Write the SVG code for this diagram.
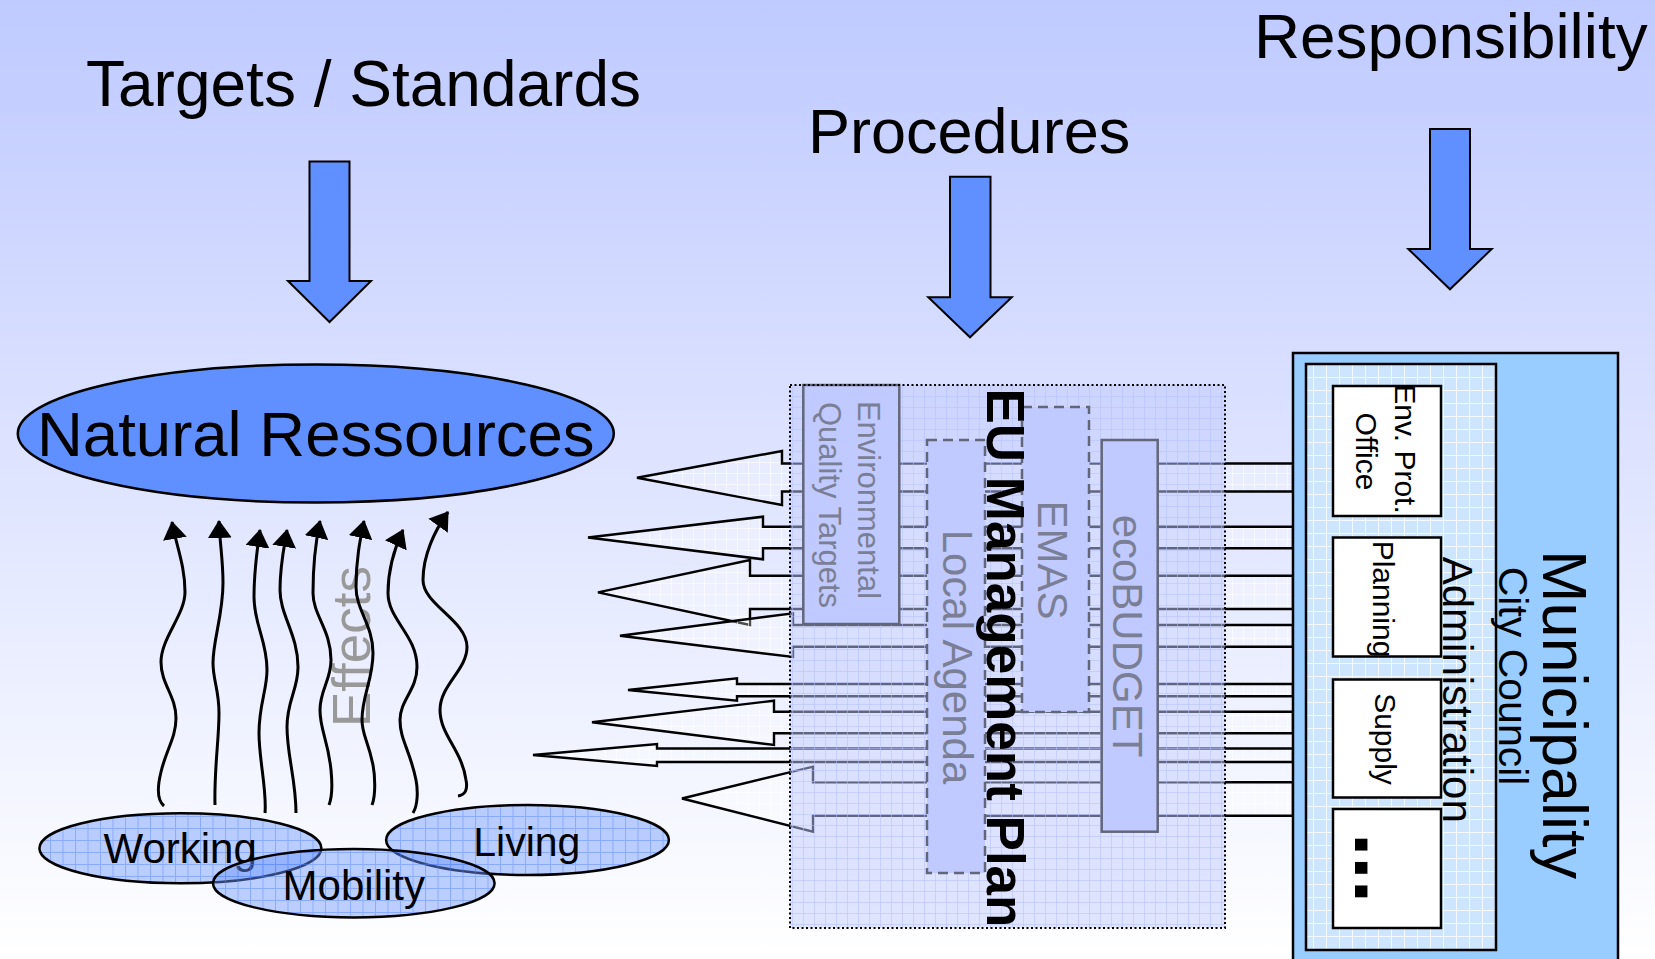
<svg xmlns="http://www.w3.org/2000/svg" width="1655" height="959" viewBox="0 0 1655 959">
  <defs>
    <linearGradient id="bg" x1="0" y1="0" x2="0" y2="1">
      <stop offset="0" stop-color="#bfcaff"/>
      <stop offset="1" stop-color="#ffffff"/>
    </linearGradient>
    <!-- translucent blue grid used by the activity ellipses -->
    <pattern id="ellGrid" width="12.5" height="12" patternUnits="userSpaceOnUse">
      <rect width="12.5" height="12" fill="#6d97ff" fill-opacity="0.45"/>
      <path d="M0,0.5H12.5M0.5,0V12" stroke="#4f80ff" stroke-opacity="0.45" stroke-width="1"/>
    </pattern>
    <!-- translucent wash over the management plan area -->
    <pattern id="euGrid" width="11" height="11" patternUnits="userSpaceOnUse">
      <rect width="11" height="11" fill="#c2ccff" fill-opacity="0.5"/>
      <path d="M0,0.5H11M0.5,0V11" stroke="#b4c1ff" stroke-opacity="0.55" stroke-width="1"/>
    </pattern>
    <pattern id="adminGrid" width="13" height="13" patternUnits="userSpaceOnUse">
      <rect width="13" height="13" fill="#cde5ff"/>
      <path d="M0,0.5H13M0.5,0V13" stroke="#ffffff" stroke-opacity="0.8" stroke-width="1"/>
    </pattern>
    <pattern id="flowFill" width="11" height="11" patternUnits="userSpaceOnUse">
      <rect width="11" height="11" fill="#ffffff" fill-opacity="0.3"/>
      <path d="M0,0.5H11M0.5,0V11" stroke="#ffffff" stroke-opacity="0.6" stroke-width="1"/>
    </pattern>
    <marker id="head" viewBox="0 0 18 24" refX="17" refY="12" markerWidth="18" markerHeight="24" markerUnits="userSpaceOnUse" orient="auto">
      <path d="M0,0 L18,12 L0,24 z" fill="#000"/>
    </marker>
  </defs>
  <style>
    text { font-family: "Liberation Sans", Arial, sans-serif; fill: #000; }
    .title { font-size: 64px; }
    .blk { fill: #6090ff; stroke: #000; stroke-width: 2; stroke-linejoin: miter; }
    .wave { fill: none; stroke: #000; stroke-width: 3; marker-end: url(#head); }
    .flow { fill: url(#flowFill); stroke: #000; stroke-width: 2.4; stroke-linejoin: miter; }
    .act { fill: url(#ellGrid); stroke: #000; stroke-width: 2.5; }
    .actTxt { font-size: 42px; text-anchor: middle; }
    .inner { fill: #c1caff; stroke: #62667a; stroke-width: 2.5; }
    .dash { stroke-dasharray: 10 6; }
    .innerTxt { fill: #7a7f96; text-anchor: middle; }
    .unit { fill: #ffffff; stroke: #000; stroke-width: 2.5; }
    .unitTxt { font-size: 30px; text-anchor: middle; }
  </style>

  <rect width="1655" height="959" fill="url(#bg)"/>

  <!-- headings -->
  <g id="headings">
    <text class="title" x="86" y="106">Targets / Standards</text>
    <text class="title" x="808" y="152.7" style="font-size:63px">Procedures</text>
    <text class="title" x="1254" y="58.3" style="font-size:63.8px">Responsibility</text>
  </g>

  <!-- block arrows under the headings -->
  <g id="block-arrows">
    <polygon class="blk" points="309.5,161.5 349.5,161.5 349.5,281 371,281 329.5,322 288,281 309.5,281"/>
    <polygon class="blk" points="950,176.7 990.5,176.7 990.5,297.3 1011.7,297.3 970,337.3 928.3,297.3 950,297.3"/>
    <polygon class="blk" points="1430,129 1470,129 1470,249 1491.7,249 1450,289.3 1408.3,249 1430,249"/>
  </g>

  <g id="natural-ressources">
    <ellipse cx="315.8" cy="433.5" rx="298" ry="69" fill="#6090ff" stroke="#000" stroke-width="2.5"/>
    <text x="37" y="456" style="font-size:63.5px">Natural Ressources</text>
  </g>

  <g id="working">
    <ellipse class="act" cx="180.4" cy="848.3" rx="141" ry="35"/>
    <text class="actTxt" x="180.2" y="863.3">Working</text>
  </g>
  <g id="living">
    <ellipse class="act" cx="527.5" cy="840" rx="141.4" ry="35"/>
    <text class="actTxt" x="526.8" y="856" style="font-size:41px">Living</text>
  </g>
  <g id="mobility">
    <ellipse class="act" cx="353.8" cy="883.2" rx="140.8" ry="34.2"/>
    <text class="actTxt" x="353.8" y="900">Mobility</text>
  </g>

  <text id="effects-label" transform="translate(370,727) rotate(-90)" style="font-size:53px;fill:#999999">Effects</text>

  <g id="connectors">
    <!-- effects rising from the activities -->
    <path class="wave" d="M164,806 C157,800 157,788 161,772 C166,750 176,738 176,718 C176,696 161,684 161,662 C161,638 185,615 185,592 C185,565 176,545 172,522"/>
    <path class="wave" d="M215,805 C214,770 219,740 219,713 C219,690 213,680 213,663 C213,640 223,615 223,583 C223,560 220,545 219,521"/>
    <path class="wave" d="M265,813 C267,790 259,760 259,733 C259,705 267,690 267,670 C267,640 254,625 254,597 C254,570 257,550 260,530"/>
    <path class="wave" d="M296,813 C296,780 287,755 287,727 C287,700 298,690 298,667 C298,635 280,615 280,590 C280,565 284,548 287,530"/>
    <path class="wave" d="M329,805 C333,795 332,780 331,770 C328,740 320,730 320,710 C320,690 331,680 331,660 C331,630 313,615 313,593 C313,565 316,540 320,521"/>
    <path class="wave" d="M372,805 C376,795 375,775 373,765 C368,740 362,735 362,720 C362,695 373,680 373,653 C373,625 356,610 356,587 C356,560 360,540 364,521"/>
    <path class="wave" d="M413,813 C418,805 418,790 416,780 C410,750 400,740 400,720 C400,700 417,690 417,667 C417,635 388,620 388,593 C388,565 396,545 403,530"/>
    <path class="wave" d="M458,796 C465,795 468,790 466,780 C462,750 440,735 440,710 C440,685 467,670 467,647 C467,620 423,605 423,580 C423,555 435,530 448,512"/>

    <!-- flows from the municipality through the management plan -->
    <polygon class="flow" points="637,477.7 782,451 782,463.5 1293,463.5 1293,491.5 782,491.5 782,505"/>
    <polygon class="flow" points="588,537.5 763,516.7 763,526.7 1293,526.7 1293,548.3 763,548.3 763,559.3"/>
    <polygon class="flow" points="598,592.3 750,560 750,575.7 1293,575.7 1293,609 750,609 750,625"/>
    <polygon class="flow" points="620,635.8 793,613.3 793,625 1293,625 1293,646.7 793,646.7 793,657"/>
    <polygon class="flow" points="628,690 737,678.3 737,684 1293,684 1293,696.3 737,696.3 737,700.7"/>
    <polygon class="flow" points="592,722.3 774,700.7 774,711.7 1293,711.7 1293,733.3 774,733.3 774,745"/>
    <polygon class="flow" points="533,755 657,744 657,748.5 1293,748.5 1293,762 657,762 657,766"/>
    <polygon class="flow" points="682,798.5 813,766.7 813,782.3 1293,782.3 1293,815.7 813,815.7 813,831.7"/>
  </g>

  <g id="eu-management-plan">
    <rect x="790" y="385" width="435" height="543" fill="url(#euGrid)"/>
    <g id="quality-targets">
      <rect class="inner" x="803.3" y="385" width="96" height="239"/>
      <text class="innerTxt" transform="translate(857.5,500) rotate(90)" style="font-size:31px">Environmental</text>
      <text class="innerTxt" transform="translate(819,505) rotate(90)" style="font-size:31px">Quality Targets</text>
    </g>
    <g id="local-agenda">
      <rect class="inner dash" x="927" y="440" width="58" height="433"/>
      <text class="innerTxt" transform="translate(943,657) rotate(90)" style="font-size:42px">Local Agenda</text>
    </g>
    <g id="emas">
      <rect class="inner dash" x="1022" y="407" width="67" height="305"/>
      <text class="innerTxt" transform="translate(1038,560) rotate(90)" style="font-size:42px">EMAS</text>
    </g>
    <g id="ecobudget">
      <rect class="inner" x="1101.7" y="440" width="56" height="391.7"/>
      <text class="innerTxt" transform="translate(1113,636) rotate(90)" style="font-size:42px">ecoBUDGET</text>
    </g>
    <rect x="790" y="385" width="435" height="543" fill="none" stroke="#000" stroke-width="2" stroke-dasharray="2 2.5"/>
    <text transform="translate(987,658) rotate(90)" style="font-size:53px;font-weight:bold;text-anchor:middle">EU Management Plan</text>
  </g>

  <g id="municipality">
    <rect x="1293" y="353" width="325" height="630" fill="#99ccff" stroke="#000" stroke-width="2.5"/>
    <g id="administration">
      <rect x="1306" y="364" width="190" height="586" fill="url(#adminGrid)" stroke="#000" stroke-width="2.5"/>
      <g id="env-prot-office">
        <rect class="unit" x="1333" y="386" width="108" height="130"/>
        <text class="unitTxt" transform="translate(1395,449) rotate(90)">Env. Prot.</text>
        <text class="unitTxt" transform="translate(1356,451.5) rotate(90)">Office</text>
      </g>
      <g id="planning">
        <rect class="unit" x="1333" y="537.5" width="108" height="119"/>
        <text class="unitTxt" transform="translate(1373.3,599) rotate(90)">Planning</text>
      </g>
      <g id="supply">
        <rect class="unit" x="1333" y="679.5" width="108" height="118"/>
        <text class="unitTxt" transform="translate(1375,739) rotate(90)">Supply</text>
      </g>
      <g id="more-units">
        <rect class="unit" x="1333" y="809" width="108" height="119"/>
        <text transform="translate(1355,833) rotate(90)" style="font-size:84px;font-weight:bold">...</text>
      </g>
      <text transform="translate(1443,556.7) rotate(90)" style="font-size:42px">Administration</text>
    </g>
    <text transform="translate(1499,566.7) rotate(90)" style="font-size:41px">City Council</text>
    <text transform="translate(1543,550) rotate(90)" style="font-size:63px">Municipality</text>
  </g>
</svg>
